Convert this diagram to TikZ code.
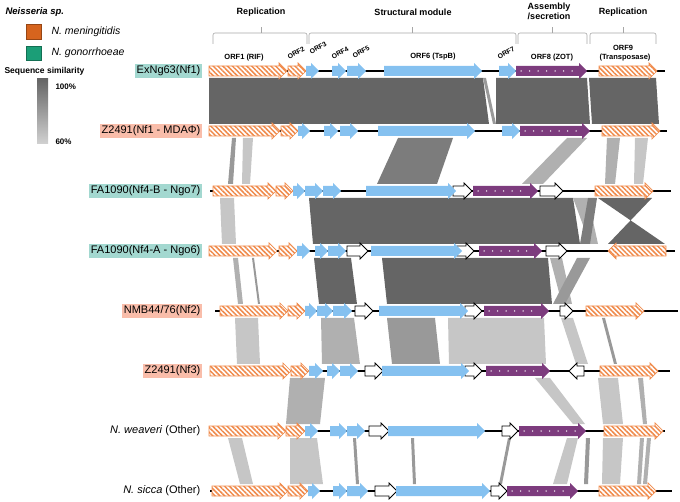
\documentclass[tikz,border=0pt]{standalone}
\usepackage{fontspec}
\setmainfont{Liberation Sans}
\usetikzlibrary{patterns.meta,decorations.markings}

\definecolor{hatch}{HTML}{F08A4B}
\definecolor{orfblue}{HTML}{85C1F0}
\definecolor{zotpurple}{HTML}{7D3C7E}
\definecolor{menin}{HTML}{D6641E}
\definecolor{gono}{HTML}{1B9E77}
\definecolor{meninbg}{HTML}{F9BDAA}
\definecolor{gonobg}{HTML}{A3D8D0}
\definecolor{s100}{HTML}{656565}
\definecolor{s90}{HTML}{7C7C7C}
\definecolor{s80}{HTML}{999999}
\definecolor{s70}{HTML}{B0B0B0}
\definecolor{s60}{HTML}{C6C6C6}

\tikzset{
  repgene/.style={preaction={fill=white}, pattern={Lines[angle=-45,distance=3.4pt,line width=1.5pt]},
    pattern color=hatch, draw=hatch, line width=0.7pt},
  structgene/.style={fill=orfblue},
  zotgene/.style={fill=zotpurple},
  hypgene/.style={fill=white, draw=black, line width=0.8pt},
  backbone/.style={line width=1.4pt, black},
  brace/.style={gray!70, line width=0.6pt, rounded corners=2pt},
  modlabel/.style={font=\fontsize{9}{10}\selectfont\bfseries, align=center},
  orflabel/.style={font=\fontsize{7.5}{8}\selectfont\bfseries},
  tiltlabel/.style={font=\fontsize{6.8}{8}\selectfont\bfseries, rotate=30, inner sep=0.5pt},
  strain/.style={anchor=east, font=\fontsize{11}{12}\selectfont, inner sep=1.5pt,
    text height=8pt, text depth=2.5pt},
}

% gene arrow: style, start x, tip x, row y
\newcommand{\gene}[4]{%
  \pgfmathsetmacro\ghead{min(8,0.75*abs(#3-#2))*sign(#3-#2)}
  \path[#1] (#2,#4-5) -- ({#3-(\ghead)},#4-5) -- ({#3-(\ghead)},#4-8) -- (#3,#4)
    -- ({#3-(\ghead)},#4+8) -- ({#3-(\ghead)},#4+5) -- (#2,#4+5) -- cycle;}

% dotted ZOT gene: start x, tip x, row y
\newcommand{\zot}[3]{%
  \gene{zotgene}{#1}{#2}{#3}
  \path[decoration={markings, mark=between positions 5pt and -11pt step 8.5pt
      with {\fill[white] (0,0) circle (0.75pt);}}, decorate] (#1,#3) -- (#2,#3);}

% similarity band: upper row y, top x from/to, bottom x from/to, shade
\newcommand{\simband}[6]{%
  \fill[#6] (#2,#1+7) -- (#3,#1+7) -- (#5,#1+53) -- (#4,#1+53) -- cycle;}

% module bracket: left x, right x, tick x
\newcommand{\modbrace}[3]{%
  \draw[brace] (#1,44) -- (#1,33) -- (#2,33) -- (#2,44);
  \draw[brace] (#3,33) -- (#3,27);}

\begin{document}
\begin{tikzpicture}[x=1pt,y=-1pt]
        \useasboundingbox (0,0) rectangle (680,502);

        %-- Legend --
        \node[anchor=west, font=\fontsize{9.5}{10}\selectfont\bfseries\itshape] (species) at (2,12) {Neisseria sp.};
        \fill[menin, draw=menin!70!black, line width=0.4pt] (26,24) rectangle (41,39);
        \node[anchor=west, font=\fontsize{10.5}{11}\selectfont\itshape] (menlbl) at (48,32) {N. meningitidis};
        \fill[gono, draw=gono!70!black, line width=0.4pt] (26,46) rectangle (41,60);
        \node[anchor=west, font=\fontsize{10.5}{11}\selectfont\itshape] (gonlbl) at (48,53) {N. gonorrhoeae};
        \node[anchor=west, font=\fontsize{8.5}{10}\selectfont\bfseries] (simlbl) at (1,71) {Sequence similarity};
        \shade[top color=s100, bottom color=s60!80!white] (37,79) rectangle (48,144);
        \node[anchor=west, font=\fontsize{8}{9}\selectfont\bfseries] (hi) at (52,87) {100\%};
        \node[anchor=west, font=\fontsize{8}{9}\selectfont\bfseries] (lo) at (52,142) {60\%};

        %-- Module brackets --
        \modbrace{213}{307}{261}
        \modbrace{309}{516}{412}
        \modbrace{518}{587}{552}
        \modbrace{590}{656}{623}
        \node[modlabel] (rep1) at (261,12) {Replication};
        \node[modlabel] (struct) at (413,12) {Structural module};
        \node[modlabel] (assem) at (549,11) {Assembly\\/secretion};
        \node[modlabel] (rep2) at (623,12) {Replication};

        %-- ORF names --
        \node[orflabel] (orf1) at (244,58) {ORF1 (RIF)};
        \node[tiltlabel] (orf2) at (296,53) {ORF2};
        \node[tiltlabel] (orf3) at (318,48) {ORF3};
        \node[tiltlabel] (orf4) at (340,53) {ORF4};
        \node[tiltlabel] (orf5) at (361,52) {ORF5};
        \node[orflabel] (orf6) at (433,57) {ORF6 (TspB)};
        \node[tiltlabel] (orf7) at (506,53) {ORF7};
        \node[orflabel] (orf8) at (552,58) {ORF8 (ZOT)};
        \node[orflabel] (orf9) at (623,48) {ORF9};
        \node[orflabel] (transp) at (625,58) {(Transposase)};

        %-- Similarity bands --
        % ExNg63 -> Z2491 (MDA)
        \simband{71}{209}{483}{209}{489}{s100}
        \simband{71}{483}{486}{493}{496}{s80}
        \simband{71}{496}{587}{496}{590}{s100}
        \simband{71}{589}{656}{592}{659}{s100}
        % Z2491 (MDA) -> Ngo7
        \simband{131}{232}{236}{228}{233}{s80}
        \simband{131}{243}{253}{242}{250}{s60}
        \simband{131}{398}{453}{377}{437}{s90}
        \simband{131}{567}{587}{522}{543}{s70}
        \simband{131}{607}{620}{605}{615}{s70}
        \simband{131}{635}{648}{634}{643}{s60}
        % Ngo7 -> Ngo6
        \simband{191}{220}{234}{222}{236}{s60}
        \simband{191}{309}{573}{313}{580}{s100}
        \simband{191}{573}{588}{590}{598}{s70}
        \simband{191}{588}{597}{580}{590}{s90}
        \simband{191}{598}{652}{665}{608}{s100}   % inverted ORF9
        % Ngo6 -> NMB44/76
        \simband{251}{233}{238}{238}{243}{s70}
        \simband{251}{252}{254}{258}{260}{s80}
        \simband{251}{314}{351}{319}{357}{s100}
        \simband{251}{382}{548}{387}{552}{s100}
        \simband{251}{550}{562}{562}{572}{s70}
        \simband{251}{577}{590}{553}{565}{s80}
        % NMB44/76 -> Z2491 (Nf3)
        \simband{311}{235}{258}{237}{260}{s60}
        \simband{311}{321}{354}{322}{360}{s70}
        \simband{311}{387}{435}{392}{440}{s80}
        \simband{311}{448}{544}{449}{546}{s60}
        \simband{311}{561}{573}{576}{588}{s60}
        \simband{311}{602}{605}{614}{617}{s80}
        % Z2491 (Nf3) -> N. weaveri
        \simband{371}{290}{325}{286}{320}{s70}
        \simband{371}{535}{550}{573}{585}{s60}
        \simband{371}{598}{618}{603}{623}{s60}
        \simband{371}{638}{643}{643}{647}{s70}
        % N. weaveri -> N. sicca
        \simband{431}{228}{242}{240}{253}{s60}
        \simband{431}{290}{317}{290}{323}{s60}
        \simband{431}{353}{356}{356}{359}{s80}
        \simband{431}{411}{414}{413}{416}{s80}
        \simband{431}{508}{511}{499}{502}{s80}
        \simband{431}{567}{578}{553}{567}{s60}
        \simband{431}{586}{590}{584}{588}{s80}
        \simband{431}{603}{623}{602}{620}{s60}
        \simband{431}{640}{644}{637}{641}{s70}
        \simband{431}{647}{651}{643}{647}{s70}

        %-- Strain labels --
        \node[strain, fill=gonobg]  (ex)   at (202,71)  {ExNg63(Nf1)};
        \node[strain, fill=meninbg] (mda)  at (202,131) {Z2491(Nf1 - MDAΦ)};
        \node[strain, fill=gonobg]  (ngo7) at (202,191) {FA1090(Nf4-B - Ngo7)};
        \node[strain, fill=gonobg]  (ngo6) at (202,251) {FA1090(Nf4-A - Ngo6)};
        \node[strain, fill=meninbg] (nf2)  at (202,311) {NMB44/76(Nf2)};
        \node[strain, fill=meninbg] (nf3)  at (202,371) {Z2491(Nf3)};
        \node[strain] (weav) at (202,431) {\textit{N. weaveri} (Other)};
        \node[strain] (sicca) at (202,491) {\textit{N. sicca} (Other)};

        %-- Row 1: ExNg63 --
        \draw[backbone] (209,71) -- (665,71);
        \gene{repgene}{209}{287}{71}  \gene{repgene}{288}{306}{71}
        \gene{structgene}{306}{319}{71} \gene{structgene}{332}{346}{71}
        \gene{structgene}{347}{366}{71} \gene{structgene}{384}{482}{71}
        \gene{structgene}{499}{516}{71}
        \zot{516}{587}{71}
        \gene{repgene}{599}{657}{71}

        %-- Row 2: Z2491 (MDA) --
        \draw[backbone] (209,131) -- (667,131);
        \gene{repgene}{209}{280}{131}  \gene{repgene}{281}{298}{131}
        \gene{structgene}{298}{310}{131} \gene{structgene}{324}{338}{131}
        \gene{structgene}{340}{358}{131} \gene{structgene}{378}{475}{131}
        \gene{structgene}{502}{520}{131}
        \zot{520}{590}{131}
        \gene{repgene}{602}{660}{131}

        %-- Row 3: FA1090 Ngo7 --
        \draw[backbone] (210,191) -- (671,191);
        \gene{repgene}{213}{276}{191}  \gene{repgene}{276}{293}{191}
        \gene{structgene}{293}{305}{191} \gene{structgene}{305}{323}{191}
        \gene{structgene}{323}{341}{191}
        \gene{hypgene}{453}{472}{191}
        \gene{structgene}{366}{456}{191}
        \zot{473}{538}{191}
        \gene{hypgene}{540}{563}{191}
        \gene{repgene}{595}{653}{191}

        %-- Row 4: FA1090 Ngo6 --
        \draw[backbone] (209,251) -- (675,251);
        \gene{repgene}{209}{277}{251}  \gene{repgene}{279}{297}{251}
        \gene{structgene}{297}{310}{251} \gene{structgene}{315}{328}{251}
        \gene{structgene}{328}{346}{251}
        \gene{hypgene}{347}{368}{251}
        \gene{hypgene}{457}{474}{251}
        \gene{structgene}{371}{462}{251}
        \zot{479}{542}{251}
        \gene{hypgene}{546}{567}{251}
        \gene{repgene}{666}{608}{251}

        %-- Row 5: NMB44/76 --
        \draw[backbone] (215,311) -- (678,311);
        \gene{repgene}{220}{288}{311}  \gene{repgene}{288}{305}{311}
        \gene{structgene}{305}{317}{311} \gene{structgene}{317}{333}{311}
        \gene{structgene}{333}{352}{311}
        \gene{hypgene}{355}{373}{311}
        \gene{hypgene}{465}{482}{311}
        \gene{structgene}{379}{468}{311}
        \zot{484}{549}{311}
        \gene{hypgene}{560}{573}{311}
        \gene{repgene}{586}{644}{311}

        %-- Row 6: Z2491 (Nf3) --
        \draw[backbone] (210,371) -- (670,371);
        \gene{repgene}{210}{291}{371}  \gene{repgene}{291}{309}{371}
        \gene{structgene}{309}{323}{371} \gene{structgene}{327}{340}{371}
        \gene{structgene}{340}{358}{371}
        \gene{hypgene}{365}{383}{371}
        \gene{hypgene}{465}{482}{371}
        \gene{structgene}{382}{469}{371}
        \zot{486}{550}{371}
        \gene{hypgene}{584}{569}{371}
        \gene{repgene}{600}{658}{371}

        %-- Row 7: N. weaveri --
        \draw[backbone] (209,431) -- (665,431);
        \gene{repgene}{209}{286}{431}  \gene{repgene}{286}{305}{431}
        \gene{structgene}{305}{318}{431} \gene{structgene}{330}{347}{431}
        \gene{structgene}{347}{365}{431}
        \gene{hypgene}{369}{389}{431}
        \gene{structgene}{388}{485}{431}
        \gene{hypgene}{502}{518}{431}
        \zot{519}{586}{431}
        \gene{repgene}{604}{663}{431}

        %-- Row 8: N. sicca --
        \draw[backbone] (210,491) -- (672,491);
        \gene{repgene}{212}{288}{491}  \gene{repgene}{288}{308}{491}
        \gene{structgene}{308}{320}{491} \gene{structgene}{333}{347}{491}
        \gene{structgene}{347}{368}{491}
        \gene{hypgene}{375}{397}{491}
        \gene{structgene}{396}{490}{491}
        \gene{hypgene}{491}{507}{491}
        \zot{507}{578}{491}
        \gene{repgene}{599}{656}{491}

    \end{tikzpicture}
\end{document}
